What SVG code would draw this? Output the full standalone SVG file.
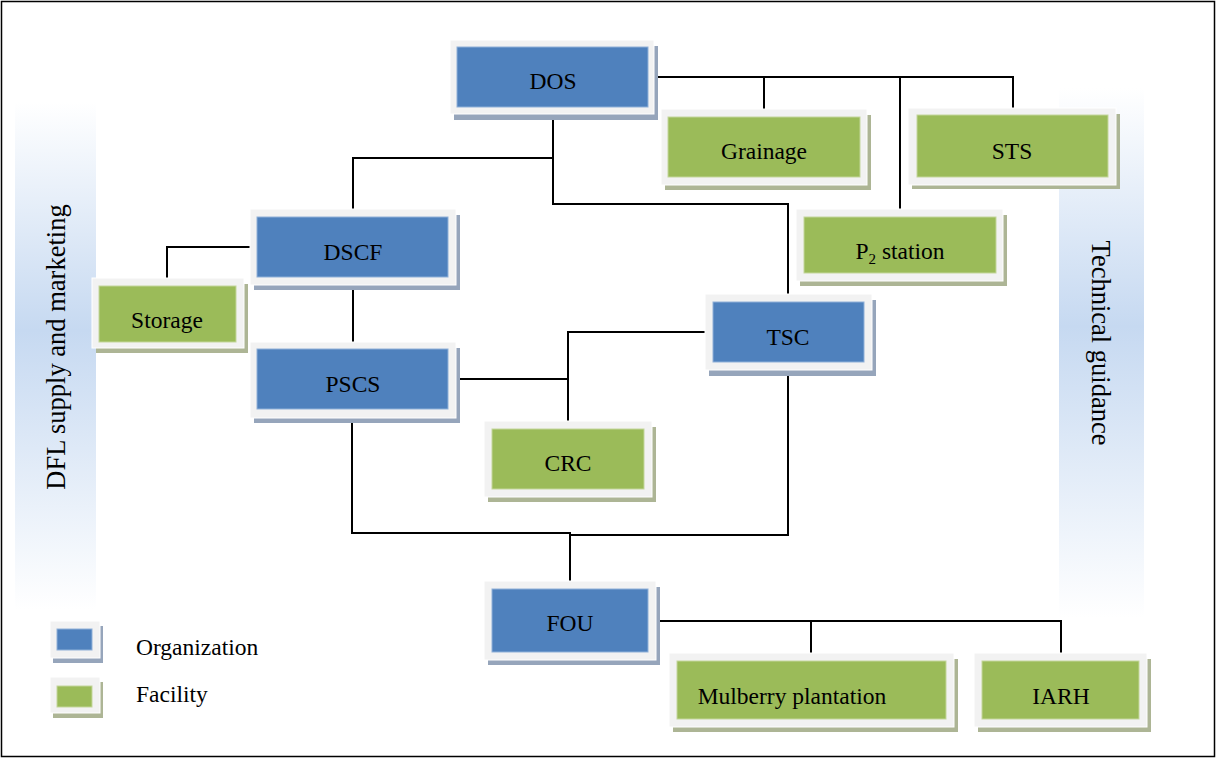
<svg xmlns="http://www.w3.org/2000/svg" width="1216" height="758" viewBox="0 0 1216 758">
<defs>
<linearGradient id="band" x1="0" y1="0" x2="0" y2="1">
<stop offset="0" stop-color="#ffffff"/>
<stop offset="0.45" stop-color="#c6d9f1"/>
<stop offset="1" stop-color="#ffffff"/>
</linearGradient>
<style>
.frame{fill:#f2f2f2;stroke:#ffffff;stroke-width:1}
.shb{fill:#96a5bb}
.shg{fill:#adb595}
.org{fill:#4f81bd;stroke:#8fb0d8;stroke-width:1}
.fac{fill:#9bbb59;stroke:#c3d69b;stroke-width:1}
.t{font-family:"Liberation Serif","Times New Roman",serif;font-size:23.5px;fill:#000;text-anchor:middle}
.side{font-family:"Liberation Serif","Times New Roman",serif;font-size:26.5px;fill:#000;text-anchor:middle}
.leg{font-family:"Liberation Serif","Times New Roman",serif;font-size:23.5px;fill:#000}
.c{fill:none;stroke:#000;stroke-width:2}
</style>
</defs>
<rect x="0" y="0" width="1216" height="758" fill="#ffffff"/>
<rect x="1.5" y="1.5" width="1213" height="755" fill="none" stroke="#000" stroke-width="1.5"/>
<g id="band-left">
<rect x="15" y="102" width="81" height="508" fill="url(#band)"/>
<text class="side" transform="translate(65,347) rotate(-90)">DFL supply and marketing</text>
</g>
<g id="band-right">
<rect x="1059" y="88" width="85" height="530" fill="url(#band)"/>
<text class="side" transform="translate(1092,343) rotate(90)">Technical guidance</text>
</g>
<g id="connectors">
<path class="c" d="M654,77 H1013 V108"/>
<path class="c" d="M764,77 V109"/>
<path class="c" d="M900,77 V209"/>
<path class="c" d="M553,114 V204 H788 V294"/>
<path class="c" d="M553,158 H353 V209"/>
<path class="c" d="M250,247 H167 V278"/>
<path class="c" d="M353,285 V342"/>
<path class="c" d="M456,379 H568"/>
<path class="c" d="M705,332 H568 V421"/>
<path class="c" d="M352,418 V533 H570 V581"/>
<path class="c" d="M788,370 V535 H570"/>
<path class="c" d="M656,621 H1061 V653"/>
<path class="c" d="M811,621 V653"/>
</g>
<g id="DOS">
<rect class="shb" x="454" y="46" width="204" height="74"/>
<rect class="frame" x="450" y="40" width="204" height="74"/>
<rect class="org" x="457" y="47" width="191" height="60"/>
<text class="t" x="553" y="89">DOS</text>
</g>
<g id="Grainage">
<rect class="shg" x="665" y="115" width="206" height="75"/>
<rect class="frame" x="661" y="109" width="206" height="76"/>
<rect class="fac" x="668" y="117" width="192" height="60"/>
<text class="t" x="764" y="159">Grainage</text>
</g>
<g id="STS">
<rect class="shg" x="912" y="114" width="208" height="75"/>
<rect class="frame" x="908" y="108" width="208" height="77"/>
<rect class="fac" x="917" y="115" width="191" height="62"/>
<text class="t" x="1012" y="159">STS</text>
</g>
<g id="DSCF">
<rect class="shb" x="254" y="215" width="206" height="75"/>
<rect class="frame" x="250" y="209" width="206" height="76"/>
<rect class="org" x="257" y="217" width="191" height="60"/>
<text class="t" x="353" y="260">DSCF</text>
</g>
<g id="P2station">
<rect class="shg" x="800" y="215" width="207" height="71"/>
<rect class="frame" x="796" y="209" width="207" height="72"/>
<rect class="fac" x="804" y="217" width="192" height="56"/>
<text class="t" x="900" y="259">P<tspan font-size="15" dy="5">2</tspan><tspan dy="-5"> station</tspan></text>
</g>
<g id="Storage">
<rect class="shg" x="96" y="284" width="152" height="69"/>
<rect class="frame" x="92" y="278" width="152" height="70"/>
<rect class="fac" x="99" y="286" width="137" height="56"/>
<text class="t" x="167" y="328">Storage</text>
</g>
<g id="TSC">
<rect class="shb" x="709" y="300" width="167" height="76"/>
<rect class="frame" x="705" y="294" width="167" height="76"/>
<rect class="org" x="713" y="302" width="151" height="60"/>
<text class="t" x="788" y="345">TSC</text>
</g>
<g id="PSCS">
<rect class="shb" x="254" y="348" width="206" height="75"/>
<rect class="frame" x="250" y="342" width="206" height="76"/>
<rect class="org" x="257" y="349" width="191" height="60"/>
<text class="t" x="353" y="392">PSCS</text>
</g>
<g id="CRC">
<rect class="shg" x="488" y="427" width="168" height="75"/>
<rect class="frame" x="484" y="421" width="168" height="76"/>
<rect class="fac" x="492" y="429" width="152" height="60"/>
<text class="t" x="568" y="471">CRC</text>
</g>
<g id="FOU">
<rect class="shb" x="488" y="587" width="172" height="78"/>
<rect class="frame" x="484" y="581" width="172" height="79"/>
<rect class="org" x="492" y="589" width="156" height="63"/>
<text class="t" x="570" y="631">FOU</text>
</g>
<g id="Mulberry">
<rect class="shg" x="673" y="659" width="285" height="73"/>
<rect class="frame" x="669" y="653" width="285" height="74"/>
<rect class="fac" x="677" y="661" width="269" height="58"/>
<text class="t" x="792" y="704">Mulberry plantation</text>
</g>
<g id="IARH">
<rect class="shg" x="978" y="659" width="173" height="73"/>
<rect class="frame" x="974" y="653" width="173" height="74"/>
<rect class="fac" x="982" y="661" width="157" height="58"/>
<text class="t" x="1061" y="704">IARH</text>
</g>
<g id="legend">
<rect class="shb" x="53" y="626" width="50" height="37"/>
<rect class="frame" x="50" y="621" width="50" height="37"/>
<rect class="org" x="57" y="629" width="35" height="21"/>
<text class="leg" x="136" y="655">Organization</text>
<rect class="shg" x="53" y="682" width="50" height="36"/>
<rect class="frame" x="50" y="677" width="50" height="36"/>
<rect class="fac" x="57" y="686" width="35" height="21"/>
<text class="leg" x="136" y="702">Facility</text>
</g>
</svg>
